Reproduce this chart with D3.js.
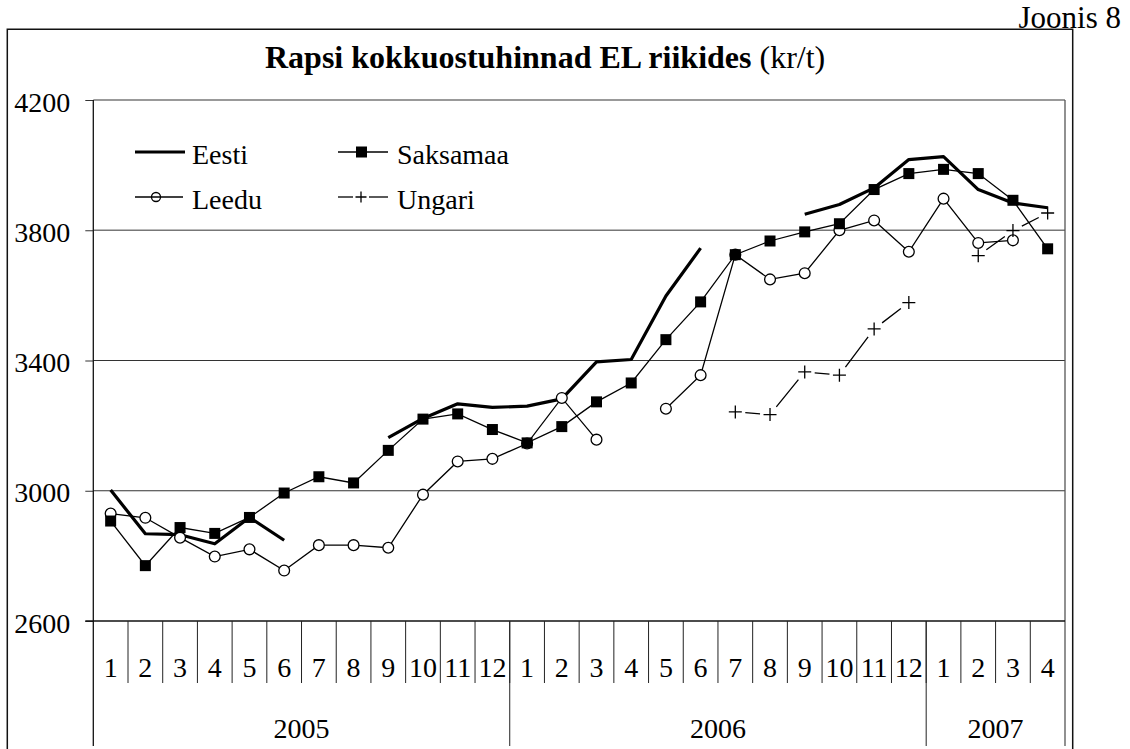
<!DOCTYPE html>
<html>
<head>
<meta charset="utf-8">
<script src="https://cdn.jsdelivr.net/npm/d3@7"></script>
<style>
  body { margin: 0; background: #fff; }
  svg { display: block; }
  svg text { font-family: "Liberation Serif", "Times New Roman", serif; }
</style>
</head>
<body>
<script>
'use strict';

const FONT = '"Liberation Serif", "Times New Roman", serif';

// months shown on the category axis (2005-01 .. 2007-04)
const monthLabels = ['1','2','3','4','5','6','7','8','9','10','11','12',
                     '1','2','3','4','5','6','7','8','9','10','11','12',
                     '1','2','3','4'];
const yearLabels = ['2005', '2006', '2007'];
const yearMonths = [12, 12, 4];
const yTicks = [2600, 3000, 3400, 3800, 4200];
const seriesNames = ['Eesti', 'Saksamaa', 'Leedu', 'Ungari'];

// prices, kr/t (null = no data)
const eesti = [3002, 2868, 2865, 2837, 2918, 2848, null, null, 3163, 3222, 3267, 3256,
               3260, 3282, 3396, 3403, 3598, 3745, null, null, 3849, 3879, 3930, 4017,
               4026, 3925, 3884, 3869];
const saksamaa = [2907, 2770, 2887, 2869, 2918, 2993, 3043, 3024, 3124, 3220, 3236, 3188,
                  3147, 3197, 3273, 3331, 3464, 3580, 3725, 3767, 3795, 3820, 3925, 3974,
                  3987, 3974, 3892, 3743];
const leedu = [2930, 2917, 2856, 2798, 2820, 2755, 2833, 2833, 2825, 2988, 3090, 3098,
               3145, 3285, 3157, null, 3252, 3355, 3725, 3649, 3668, 3800, 3830, 3734,
               3897, 3761, 3769, null];
const ungari = [null, null, null, null, null, null, null, null, null, null, null, null,
                null, null, null, null, null, null, 3242, 3234, 3365, 3355, 3497, 3578,
                null, 3722, 3799, 3853];

const W = 1130, H = 749;
const plot = { left: 93.3, right: 1065, top: 100, bottom: 621 };

const svg = d3.select('body').append('svg')
  .attr('width', W).attr('height', H)
  .attr('font-family', FONT);

const x = d3.scaleBand()
  .domain(d3.range(monthLabels.length))
  .range([plot.left, plot.right])
  .padding(0);
const cx = (i) => x(i) + x.bandwidth() / 2;

const y = d3.scaleLinear()
  .domain([2600, 4200])
  .range([plot.bottom, plot.top]);

// outer frame (open at the bottom)
svg.append('path')
  .attr('d', `M7.3,${H} V29.3 H1072.7 V${H}`)
  .attr('fill', 'none').attr('stroke', '#111').attr('stroke-width', 1.5);

svg.append('text')
  .attr('x', 1121).attr('y', 28)
  .attr('text-anchor', 'end')
  .attr('font-size', 31)
  .text('Joonis 8');

const title = svg.append('text')
  .attr('x', 265).attr('y', 67.5)
  .attr('font-size', 32);
title.append('tspan').attr('font-weight', 'bold').text('Rapsi kokkuostuhinnad EL riikides');
title.append('tspan').text(' (kr/t)');

// gridlines
svg.append('g').selectAll('line')
  .data(yTicks.filter((t) => t > 2600))
  .join('line')
  .attr('x1', plot.left).attr('x2', plot.right)
  .attr('y1', (d) => y(d)).attr('y2', (d) => y(d))
  .attr('stroke', (d) => d >= 3800 ? '#777' : '#333')
  .attr('stroke-width', (d) => d >= 3800 ? 1.5 : 1);

// plot area right border, continued through the category table
svg.append('line')
  .attr('x1', plot.right).attr('x2', plot.right)
  .attr('y1', plot.top).attr('y2', 746)
  .attr('stroke', '#555').attr('stroke-width', 1.3);

// y axis
const yAxis = svg.append('g')
  .attr('transform', `translate(${plot.left},0)`)
  .call(d3.axisLeft(y).tickValues(yTicks).tickFormat(d3.format('d'))
    .tickSize(8).tickPadding(15).tickSizeOuter(0));
yAxis.attr('font-family', FONT).attr('font-size', 28);
yAxis.select('.domain').remove();
yAxis.selectAll('.tick line').attr('stroke', '#333');
yAxis.selectAll('.tick text')
  .attr('fill', '#000')
  .attr('dy', '0.4em');
svg.append('line')
  .attr('x1', plot.left).attr('x2', plot.left)
  .attr('y1', plot.top).attr('y2', 746)
  .attr('stroke', '#111').attr('stroke-width', 1.3);

// x axis baseline
svg.append('line')
  .attr('x1', plot.left - 8).attr('x2', plot.right)
  .attr('y1', plot.bottom).attr('y2', plot.bottom)
  .attr('stroke', '#111').attr('stroke-width', 1.5);

// month dividers and labels
svg.append('g').selectAll('line')
  .data(d3.range(1, monthLabels.length))
  .join('line')
  .attr('x1', (i) => x(i)).attr('x2', (i) => x(i))
  .attr('y1', plot.bottom).attr('y2', 683)
  .attr('stroke', '#222').attr('stroke-width', 1);

svg.append('g').selectAll('text')
  .data(monthLabels)
  .join('text')
  .attr('x', (d, i) => cx(i))
  .attr('y', 677)
  .attr('text-anchor', 'middle')
  .attr('font-size', 28)
  .text((d) => d);

// year dividers and labels
const yearStart = [];
yearMonths.reduce((acc, n) => { yearStart.push(acc); return acc + n; }, 0);

svg.append('g').selectAll('line')
  .data(yearStart.slice(1))
  .join('line')
  .attr('x1', (i) => x(i)).attr('x2', (i) => x(i))
  .attr('y1', plot.bottom).attr('y2', 746)
  .attr('stroke', '#222').attr('stroke-width', 1);

svg.append('g').selectAll('text')
  .data(yearLabels)
  .join('text')
  .attr('x', (d, k) => {
    const a = x(yearStart[k]);
    const b = x(yearStart[k] + yearMonths[k] - 1) + x.bandwidth();
    return (a + b) / 2;
  })
  .attr('y', 738)
  .attr('text-anchor', 'middle')
  .attr('font-size', 28)
  .text((d) => d);

// series
const line = d3.line()
  .defined((d) => d != null)
  .x((d, i) => cx(i))
  .y((d) => y(d));

function pts(arr) {
  return arr.map((v, i) => ({ i, v })).filter((d) => d.v != null);
}

function plusPath(px, py, s) {
  return `M${px - s},${py} H${px + s} M${px},${py - s} V${py + s}`;
}

// Eesti: thick line, no markers
svg.append('path')
  .attr('d', line(eesti))
  .attr('fill', 'none').attr('stroke', '#000').attr('stroke-width', 3.2)
  .attr('stroke-linejoin', 'round');

// Leedu: thin line, hollow circles
svg.append('path')
  .attr('d', line(leedu))
  .attr('fill', 'none').attr('stroke', '#000').attr('stroke-width', 1.3);
svg.append('g').selectAll('circle')
  .data(pts(leedu))
  .join('circle')
  .attr('cx', (d) => cx(d.i)).attr('cy', (d) => y(d.v))
  .attr('r', 5.4)
  .attr('fill', '#fff').attr('stroke', '#000').attr('stroke-width', 1.3);

// Ungari: a dash in the middle of each segment, plus markers
const ungPts = pts(ungari);
const ungSegs = [];
for (let k = 1; k < ungPts.length; k++) {
  if (ungPts[k].i === ungPts[k - 1].i + 1) ungSegs.push([ungPts[k - 1], ungPts[k]]);
}
svg.append('g').selectAll('line')
  .data(ungSegs)
  .join('line')
  .attr('x1', (s) => cx(s[0].i)).attr('y1', (s) => y(s[0].v))
  .attr('x2', (s) => cx(s[1].i)).attr('y2', (s) => y(s[1].v))
  .attr('stroke', '#000').attr('stroke-width', 1.3)
  .attr('stroke-dasharray', (s) => {
    const len = Math.hypot(cx(s[1].i) - cx(s[0].i), y(s[1].v) - y(s[0].v));
    const gap = 10;
    return `0 ${gap} ${Math.max(0, len - 2 * gap)} ${gap + 1}`;
  });
svg.append('g').selectAll('path')
  .data(ungPts)
  .join('path')
  .attr('d', (d) => plusPath(cx(d.i), y(d.v), 6.5))
  .attr('fill', 'none').attr('stroke', '#000').attr('stroke-width', 1.3);

// Saksamaa: thin line, filled squares
svg.append('path')
  .attr('d', line(saksamaa))
  .attr('fill', 'none').attr('stroke', '#000').attr('stroke-width', 1.3);
svg.append('g').selectAll('rect')
  .data(pts(saksamaa))
  .join('rect')
  .attr('x', (d) => cx(d.i) - 5.5).attr('y', (d) => y(d.v) - 5.5)
  .attr('width', 11).attr('height', 11)
  .attr('fill', '#000');

// legend: 2 x 2 grid
const legendX = [135, 338];
const legendY = [152, 197];
const lg = svg.append('g');
const items = lg.selectAll('g')
  .data(seriesNames)
  .join('g')
  .attr('transform', (d, k) => `translate(${legendX[k % 2]},${legendY[Math.floor(k / 2)]})`);

items.each(function (name) {
  const g = d3.select(this);
  if (name === 'Ungari') {
    g.append('line').attr('x1', 0).attr('x2', 15).attr('stroke', '#000').attr('stroke-width', 1.3);
    g.append('line').attr('x1', 31).attr('x2', 50).attr('stroke', '#000').attr('stroke-width', 1.3);
    g.append('path').attr('d', plusPath(23, 0, 5.5))
      .attr('fill', 'none').attr('stroke', '#000').attr('stroke-width', 1.3);
  } else {
    g.append('line').attr('x1', 0).attr('x2', name === 'Leedu' ? 48 : 50)
      .attr('stroke', '#000').attr('stroke-width', name === 'Eesti' ? 3.2 : 1.3);
  }
  if (name === 'Saksamaa') {
    g.append('rect').attr('x', 18).attr('y', -5.5).attr('width', 11).attr('height', 11)
      .attr('fill', '#000');
  }
  if (name === 'Leedu') {
    g.append('circle').attr('cx', 21).attr('r', 4.5)
      .attr('fill', 'none').attr('stroke', '#000').attr('stroke-width', 1.3);
  }
  g.append('text')
    .attr('x', name === 'Eesti' || name === 'Leedu' ? 57 : 59)
    .attr('y', 11.5)
    .attr('font-size', 28)
    .style('font-family', FONT)
    .text(name);
});
</script>
</body>
</html>
